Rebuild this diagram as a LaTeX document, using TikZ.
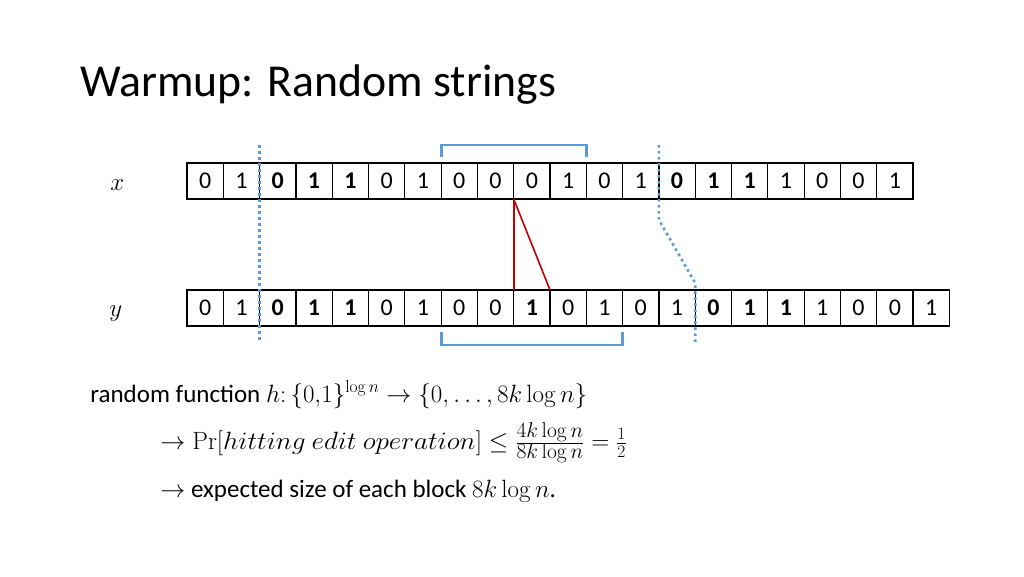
\documentclass[tikz,border=0pt]{standalone}
\usepackage{fix-cm}
\usepackage{graphicx}
\usepackage[no-math]{fontspec}
\setmainfont{Carlito}
\newfontfamily\titlefont{Carlito}
\definecolor{accent}{RGB}{91,155,213}
\definecolor{editred}{RGB}{192,0,0}
\newcommand{\fracpart}[1]{\mbox{\fontsize{21.5}{24}\selectfont$#1$}}
\begin{document}
\begin{tikzpicture}[x=1pt, y=-1pt, thick,
    cell/.style={draw, line width=1.2pt, minimum width=36.3pt, minimum height=36pt, inner sep=0pt, outer sep=0pt, font=\fontsize{24}{28}\selectfont},
    cut/.style={accent, line width=2.6pt, dash pattern=on 2.6pt off 3.4pt},
    bracket/.style={accent, line width=2.8pt},
    edit/.style={editred, line width=1.6pt},
    body/.style={anchor=base west, inner sep=0pt, font=\fontsize{25}{30}\selectfont}]

    \useasboundingbox (0,0) rectangle (1024,576);

    \node[anchor=base west, inner sep=0pt, font=\titlefont\fontsize{45.7}{54}\selectfont] (title) at (80,96) {Warmup: Random strings};

    \node[body] (xlabel) at (110,190) {$x$};
    \node[body] (ylabel) at (109,316) {$y$};

    % the two strings
    \foreach \v [count=\i] in {0,1,\textbf{0},\textbf{1},\textbf{1},0,1,0,0,0,1,0,1,\textbf{0},\textbf{1},\textbf{1},1,0,0,1}
        \node[cell] (x\i) at ({187+36.3*(\i-0.5)}, 181) {\v};
    \foreach \v [count=\i] in {0,1,\textbf{0},\textbf{1},\textbf{1},0,1,0,0,\textbf{1},0,1,0,1,\textbf{0},\textbf{1},\textbf{1},1,0,0,1}
        \node[cell] (y\i) at ({187+36.3*(\i-0.5)}, 308) {\v};

    % blocks
    \draw[bracket] ([yshift=6pt]x8.north west) |- ([yshift=18pt]x11.north east) -- ([yshift=6pt]x11.north east);
    \draw[bracket] ([yshift=-6pt]y8.south west) |- ([yshift=-19pt]y12.south east) -- ([yshift=-6pt]y12.south east);

    % cuts
    \draw[cut] ([yshift=18pt]x3.north west) -- ([yshift=-16pt]y3.south west);
    \draw[cut] ([yshift=18pt]x14.north west) -- ([yshift=-21pt]x14.south west) -- ([yshift=7pt]y15.north west) -- ([yshift=-16pt]y15.south west);

    % edit operation
    \draw[edit] (x10.south west) -- (y10.north west);
    \draw[edit] (x10.south west) -- (y11.north west);

    \node[body] (line1) at (90,402) {random function $h\colon\{0{,}1\}^{\log n}\rightarrow\{0,\dots,8k\log n\}$};
    \node[body] (line2) at (160,449) {$\rightarrow\Pr[$\scalebox{1.09}[1]{$hitting\ edit\ operation$}$]\le\frac{\fracpart{4k\log n}}{\fracpart{8k\log n}}=\frac{1}{2}$};
    \node[body] (line3) at (160,497) {$\rightarrow$ expected size of each block $8k\log n$.};
\end{tikzpicture}
\end{document}
